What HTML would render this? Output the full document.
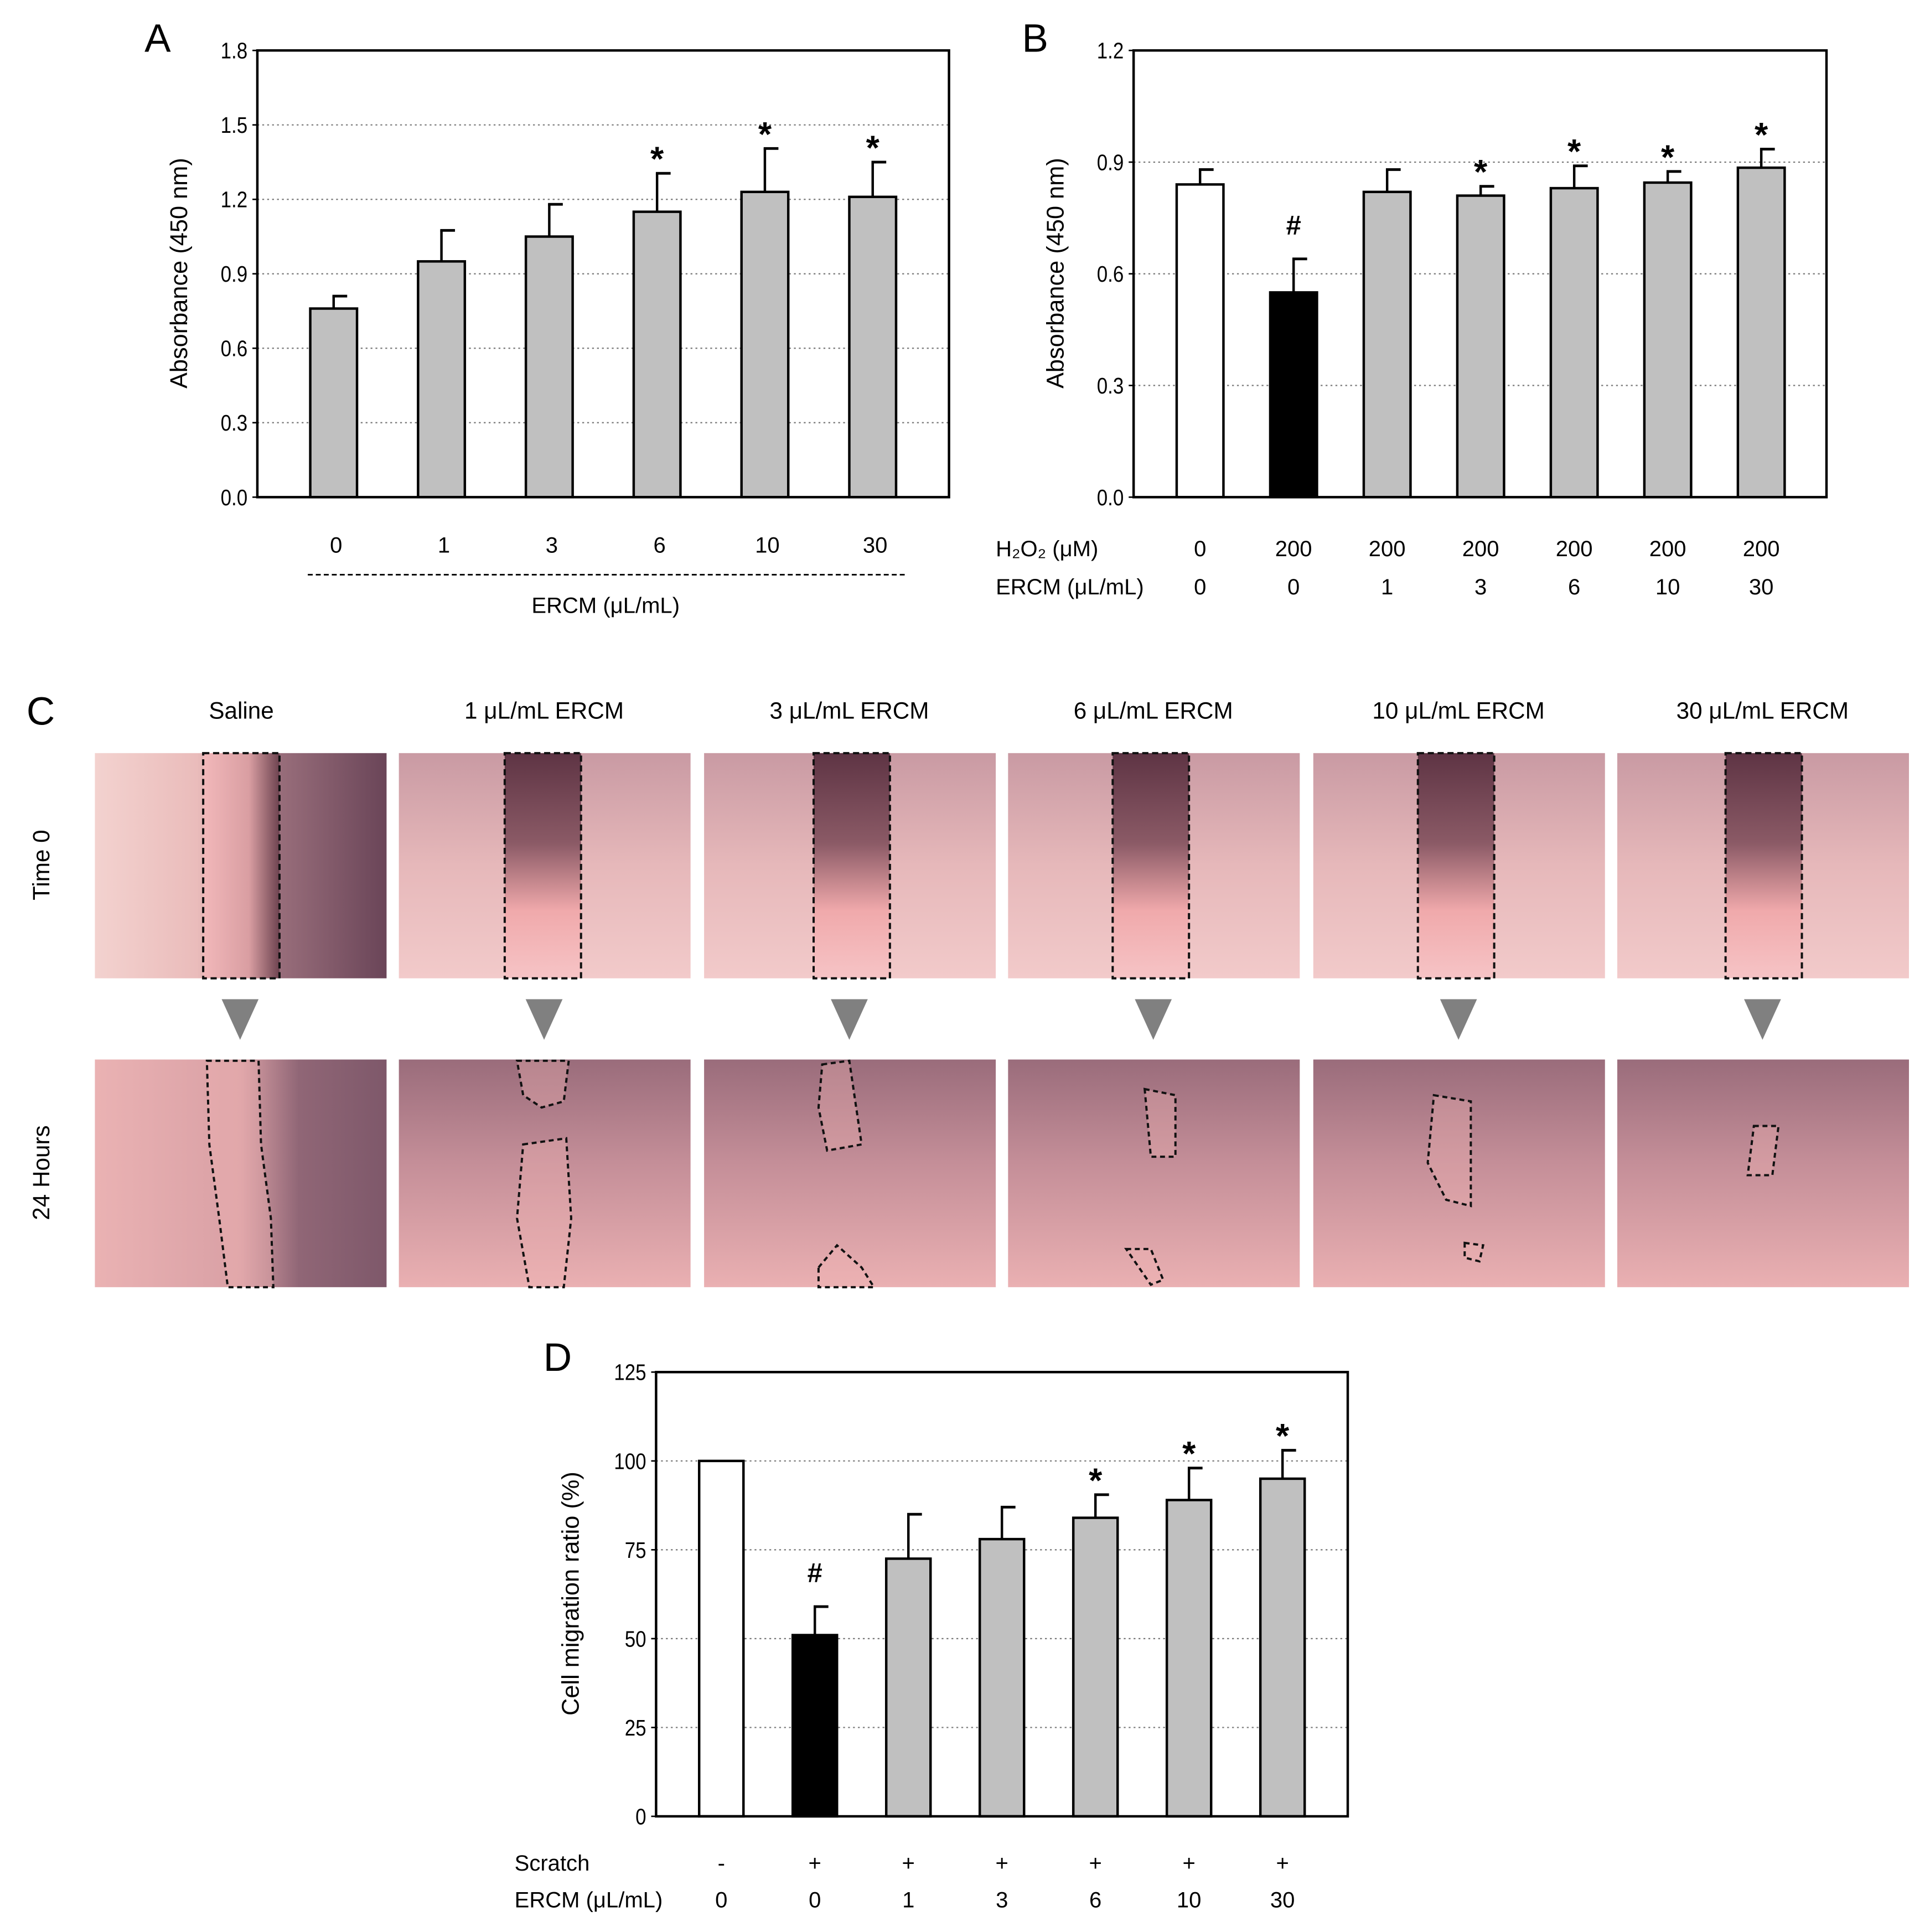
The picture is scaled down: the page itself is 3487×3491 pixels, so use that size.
<!DOCTYPE html>
<html><head><meta charset="utf-8"><style>
html,body{margin:0;padding:0;background:#fff;}
svg{display:block;}
text{font-family:"Liberation Sans",Arial,sans-serif;fill:#000;}
</style></head><body>
<svg id="fig" width="3487" height="3491" viewBox="0 0 1568 1570" xmlns="http://www.w3.org/2000/svg">
<defs>
<linearGradient id="gSalTop" x1="0" x2="1" y1="0" y2="0"><stop offset="0" stop-color="#f3d2cf"/><stop offset="0.35" stop-color="#eabcbb"/><stop offset="0.62" stop-color="#9a6f7c"/><stop offset="1" stop-color="#6a4558"/></linearGradient>
<linearGradient id="gGap0" x1="0" x2="1" y1="0" y2="0"><stop offset="0" stop-color="#f2b8ba"/><stop offset="0.6" stop-color="#d99ea2"/><stop offset="1" stop-color="#6d4350"/></linearGradient>
<linearGradient id="gGap" x1="0" x2="0" y1="0" y2="1"><stop offset="0" stop-color="#5e3444"/><stop offset="0.4" stop-color="#8b5a66"/><stop offset="0.7" stop-color="#f0a9ab"/><stop offset="1" stop-color="#f6c4c6"/></linearGradient>
<linearGradient id="gTop" x1="0" x2="0" y1="0" y2="1"><stop offset="0" stop-color="#c99aa3"/><stop offset="0.5" stop-color="#e6b8ba"/><stop offset="1" stop-color="#f2caca"/></linearGradient>
<linearGradient id="gBotSal" x1="0" x2="1" y1="0" y2="0"><stop offset="0" stop-color="#eab2b3"/><stop offset="0.5" stop-color="#d9a0a5"/><stop offset="0.7" stop-color="#906676"/><stop offset="1" stop-color="#7e586a"/></linearGradient>
<linearGradient id="gBot" x1="0" x2="0" y1="0" y2="1"><stop offset="0" stop-color="#9a6c7b"/><stop offset="0.45" stop-color="#c48e98"/><stop offset="1" stop-color="#eab0b2"/></linearGradient>
</defs>
<g id="panelC">
<text x="33" y="589" font-size="32" text-anchor="middle">C</text>
<text x="196" y="584" font-size="19" text-anchor="middle">Saline</text>
<text x="442" y="584" font-size="19" text-anchor="middle">1 μL/mL ERCM</text>
<text x="690" y="584" font-size="19" text-anchor="middle">3 μL/mL ERCM</text>
<text x="937" y="584" font-size="19" text-anchor="middle">6 μL/mL ERCM</text>
<text x="1185" y="584" font-size="19" text-anchor="middle">10 μL/mL ERCM</text>
<text x="1432" y="584" font-size="19" text-anchor="middle">30 μL/mL ERCM</text>
<text transform="translate(40,703) rotate(-90)" font-size="19" text-anchor="middle">Time 0</text>
<text transform="translate(40,953) rotate(-90)" font-size="19" text-anchor="middle">24 Hours</text>
<g id="tiles"></g>
</g>
<g id="panelA"></g>
<g id="panelB"></g>
<g id="panelD"></g>
</svg>
<script>
// ---------- Panel A data ----------
const aCategories = ["0","1","3","6","10","30"];
const aValues = [0.76, 0.95, 1.05, 1.15, 1.23, 1.21];
const aErrors = [0.05, 0.125, 0.13, 0.155, 0.175, 0.14];
const aMarks = ["","","","*","*","*"];
const aTicks = ["0.0","0.3","0.6","0.9","1.2","1.5","1.8"];
// ---------- Panel B data ----------
const bH2O2 = ["0","200","200","200","200","200","200"];
const bCategories = ["0","0","1","3","6","10","30"];
const bValues = [0.84, 0.55, 0.82, 0.81, 0.83, 0.845, 0.885];
const bErrors = [0.04, 0.09, 0.06, 0.025, 0.06, 0.03, 0.05];
const bMarks = ["","#","","*","*","*","*"];
const bTicks = ["0.0","0.3","0.6","0.9","1.2"];
// ---------- Panel D data ----------
const dScratch = ["-","+","+","+","+","+","+"];
const dCategories = ["0","0","1","3","6","10","30"];
const dValues = [100, 51, 72.5, 78, 84, 89, 95];
const dErrors = [0, 8, 12.5, 9, 6.5, 9, 8];
const dMarks = ["","#","","","*","*","*"];
const dTicks = ["0","25","50","75","100","125"];

const NS="http://www.w3.org/2000/svg";
function mk(parent,tag,attrs,txt){const e=document.createElementNS(NS,tag);for(const k in attrs)e.setAttribute(k,attrs[k]);if(txt!==undefined)e.textContent=txt;parent.appendChild(e);return e;}

function chart(g,cfg){
  const {x0,x1,y0,y1,ymax,first,step,bw,values,errors,marks,ticks,fills}=cfg;
  const ys=v=>y1-(v/ymax)*(y1-y0);
  const xs=i=>first+i*step;
  ticks.forEach((t,i)=>{
    const v=parseFloat(t), y=ys(v);
    if(i>0&&i<ticks.length-1){
      const gl=mk(g,"line",{x1:x0,x2:x1,y1:y,y2:y,stroke:"#777","stroke-width":1,"stroke-dasharray":"1.5,2.5"});
      
      
    }
    const tk=mk(g,"line",{x1:x0-4,x2:x0,y1:y,y2:y,stroke:"#000","stroke-width":1.2});
    
    
    const tl=mk(g,"text",{x:x0-8,y:y+6.5,"font-size":18.5,"text-anchor":"end",transform:`translate(${x0-8},0) scale(0.85,1) translate(${-(x0-8)},0)`},t);
    
    
  });
  values.forEach((v,i)=>{
    const cx=xs(i), top=ys(v);
    if(errors[i]>0){
      const et=ys(v+errors[i]);
      const el=mk(g,"line",{x1:cx,x2:cx,y1:top,y2:et,stroke:"#000","stroke-width":2});
      
      
      const ec=mk(g,"line",{x1:cx-1,x2:cx+11,y1:et,y2:et,stroke:"#000","stroke-width":2.2});
      
      
    }
    const r=mk(g,"rect",{x:cx-bw/2,y:top,width:bw,height:y1-top,fill:fills[i],stroke:"#000","stroke-width":2});
    
    
    if(marks[i]){
      const star=marks[i]==="*";
      const my=ys(v+errors[i])-(star?2:20);
      const m=mk(g,"text",{x:cx,y:my,"font-size":star?28:22,"font-weight":"bold","text-anchor":"middle"},marks[i]);
      
      
    }
  });
  const box=mk(g,"rect",{x:x0,y:y0,width:x1-x0,height:y1-y0,fill:"none",stroke:"#000","stroke-width":2});
  
  
  return xs;
}
function txt(g,x,y,s,size,name,anchor,rot){
  const a={x:x,y:y,"font-size":size,"text-anchor":anchor||"middle"};
  if(rot)a.transform=`rotate(-90 ${x} ${y})`;
  const t=mk(g,"text",a,s);
  
  
  return t;
}
// Panel A
const gA=document.getElementById("panelA");
const xsA=chart(gA,{x0:209,x1:771,y0:41,y1:404,ymax:1.8,first:271,step:87.6,bw:38,values:aValues,errors:aErrors,marks:aMarks,ticks:aTicks,fills:aValues.map(()=>"#c0c0c0")});
aCategories.forEach((c,i)=>txt(gA,xsA(i)+2,449,c,18,"x-tick-label"));
const dl=mk(gA,"line",{x1:250,x2:735,y1:467,y2:467,stroke:"#000","stroke-width":1.3,"stroke-dasharray":"4,2.5"});


txt(gA,492,498,"ERCM (μL/mL)",18,"x-axis-title");
txt(gA,152,222,"Absorbance (450 nm)",19.5,"y-axis-title","middle",true);
txt(gA,128,42,"A",32,"panel-a-label");
// Panel B
const gB=document.getElementById("panelB");
const fillsB=bValues.map((v,i)=>i===0?"#fff":i===1?"#000":"#c0c0c0");
const xsB=chart(gB,{x0:921,x1:1484,y0:41,y1:404,ymax:1.2,first:975,step:76,bw:38,values:bValues,errors:bErrors,marks:bMarks,ticks:bTicks,fills:fillsB});
txt(gB,809,452,"H₂O₂ (μM)",18,"row-label-h2o2","start");
txt(gB,809,483,"ERCM (μL/mL)",18,"row-label-ercm","start");
bH2O2.forEach((c,i)=>txt(gB,xsB(i),452,c,18,"h2o2-value"));
bCategories.forEach((c,i)=>txt(gB,xsB(i),483,c,18,"ercm-value"));
txt(gB,864,222,"Absorbance (450 nm)",19.5,"y-axis-title","middle",true);
txt(gB,841,42,"B",32,"panel-b-label");
// Panel D
const gD=document.getElementById("panelD");
const fillsD=dValues.map((v,i)=>i===0?"#fff":i===1?"#000":"#c0c0c0");
const xsD=chart(gD,{x0:533,x1:1095,y0:1115,y1:1476,ymax:125,first:586,step:76,bw:36,values:dValues,errors:dErrors,marks:dMarks,ticks:dTicks,fills:fillsD});
txt(gD,418,1520,"Scratch",18,"row-label-scratch","start");
txt(gD,418,1550,"ERCM (μL/mL)",18,"row-label-ercm","start");
dScratch.forEach((c,i)=>txt(gD,xsD(i),1520,c,18,"scratch-value"));
dCategories.forEach((c,i)=>txt(gD,xsD(i),1550,c,18,"ercm-value"));
txt(gD,470,1295,"Cell migration ratio (%)",19.5,"y-axis-title","middle",true);
txt(gD,453,1114,"D",32,"panel-d-label");

// Panel C tiles
const tiles=document.getElementById("tiles");
const colX=[77,324,572,819,1067,1314];
const gapX=[165,410,661,904,1152,1402];
colX.forEach((x,i)=>{
  const t=mk(tiles,"rect",{x:x,y:612,width:237,height:183,fill:i===0?"url(#gSalTop)":"url(#gTop)"});
  
  
  const gp=mk(tiles,"rect",{x:gapX[i],y:612,width:62,height:183,fill:i===0?"url(#gGap0)":"url(#gGap)",stroke:"#111","stroke-width":1.8,"stroke-dasharray":"5,3"});
  
  
  const b=mk(tiles,"rect",{x:x,y:861,width:237,height:185,fill:i===0?"url(#gBotSal)":"url(#gBot)"});
  
  
  const cx=x+118;
  const tr=mk(tiles,"polygon",{points:`${cx-15},812 ${cx+15},812 ${cx},845`,fill:"#808080"});
  
  
});
const outlines=[
 "M168,862 L210,862 L212,930 L220,990 L222,1046 L185,1046 L178,990 L170,930 Z",
 "M420,862 L462,862 L458,895 L440,900 L425,890 Z M425,930 L460,925 L464,990 L458,1046 L430,1046 L420,990 Z",
 "M668,865 L690,862 L700,930 L672,935 L665,900 Z M665,1030 L680,1012 L700,1030 L710,1046 L665,1046 Z",
 "M930,885 L955,890 L955,940 L935,940 Z M915,1015 L935,1015 L945,1040 L935,1044 Z",
 "M1165,890 L1195,895 L1195,980 L1175,975 L1160,945 Z M1190,1010 L1205,1012 L1202,1025 L1190,1022 Z",
 "M1425,915 L1445,915 L1440,955 L1420,955 Z"
];
outlines.forEach(d=>{
  const p=mk(tiles,"path",{d:d,fill:"rgba(240,180,180,0.35)",stroke:"#111","stroke-width":1.8,"stroke-dasharray":"4,3"});
  
  
});
</script>
</body></html>
